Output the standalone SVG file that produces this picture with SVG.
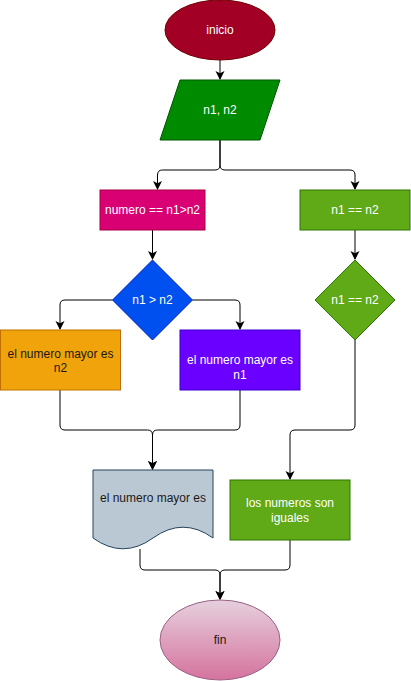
<svg xmlns="http://www.w3.org/2000/svg" width="411" height="681" viewBox="0 0 411 681">
<style>
text{font-family:"Liberation Sans",Arial,Helvetica,sans-serif;font-size:12px;text-anchor:middle}
.w{fill:#ffffff}
.d{fill:#1a1a1a}
.e{fill:none;stroke:#000000;stroke-width:1}
</style>
<defs>
<marker id="arr" markerUnits="userSpaceOnUse" markerWidth="10" markerHeight="10" refX="8" refY="4.5" orient="auto" viewBox="0 0 10 9">
<path d="M0,0 L9,4.5 L0,9 L2.2,4.5 Z" fill="#000000"/>
</marker>
<linearGradient id="finGrad" x1="0" y1="0" x2="0" y2="1">
<stop offset="0" stop-color="#e6d0de"/>
<stop offset="1" stop-color="#d5739d"/>
</linearGradient>
</defs>
<g id="connectors">
<path class="e" d="M220,60 V79" marker-end="url(#arr)"/>
<path class="e" d="M220,140 V165 Q220,170 215,170 H162.5 Q157.5,170 157.5,175 V189" marker-end="url(#arr)"/>
<path class="e" d="M220,140 V165 Q220,170 225,170 H350 Q355,170 355,175 V189" marker-end="url(#arr)"/>
<path class="e" d="M152.5,230 V259" marker-end="url(#arr)"/>
<path class="e" d="M355,230 V259" marker-end="url(#arr)"/>
<path class="e" d="M112.5,300 H65 Q60,300 60,305 V329" marker-end="url(#arr)"/>
<path class="e" d="M192.5,300 H235 Q240,300 240,305 V329" marker-end="url(#arr)"/>
<path class="e" d="M60,390 V425 Q60,430 65,430 H147.5 Q152.5,430 152.5,435 V469" marker-end="url(#arr)"/>
<path class="e" d="M240,390 V425 Q240,430 235,430 H157.5 Q152.5,430 152.5,435 V469" marker-end="url(#arr)"/>
<path class="e" d="M355,340 V425 Q355,430 350,430 H295 Q290,430 290,435 V479" marker-end="url(#arr)"/>
<path class="e" d="M140,549 V565 Q140,570 145,570 H215 Q220,570 220,575 V599" marker-end="url(#arr)"/>
<path class="e" d="M290,540 V565 Q290,570 285,570 H225 Q220,570 220,575 V599" marker-end="url(#arr)"/>
</g>
<g id="inicio">
<ellipse cx="220" cy="30" rx="55" ry="30" fill="#a20025" stroke="#6f0000"/>
<text class="w" x="220" y="34">inicio</text>
</g>
<g id="entrada">
<polygon points="180,80 280,80 260,140 160,140" fill="#008a00" stroke="#005700"/>
<text class="w" x="220" y="114">n1, n2</text>
</g>
<g id="numero">
<rect x="100" y="190" width="105" height="40" fill="#d80073" stroke="#a50040"/>
<text class="w" x="152.5" y="214">numero == n1&gt;n2</text>
</g>
<g id="igual">
<rect x="300" y="190" width="110" height="40" fill="#60a917" stroke="#2d7600"/>
<text class="w" x="355" y="214">n1 == n2</text>
</g>
<g id="decision1">
<polygon points="152.5,260 192.5,300 152.5,340 112.5,300" fill="#0050ef" stroke="#001dbc"/>
<text class="w" x="152.5" y="304">n1 &gt; n2</text>
</g>
<g id="decision2">
<polygon points="355,260 395,300 355,340 315,300" fill="#60a917" stroke="#2d7600"/>
<text class="w" x="355" y="304">n1 == n2</text>
</g>
<g id="mayor2">
<rect x="0.5" y="330" width="120" height="60" fill="#f0a30a" stroke="#bd7000"/>
<text class="d" x="60.5" y="357.5">el numero mayor es</text>
<text class="d" x="60.5" y="371.5">n2</text>
</g>
<g id="mayor1">
<rect x="180" y="330" width="120" height="60" fill="#6a00ff" stroke="#3700cc"/>
<text class="w" x="240" y="364">el numero mayor es</text>
<text class="w" x="240" y="379">n1</text>
</g>
<g id="documento">
<path d="M93,470 H213 V538 Q183,516.4 153,538 Q123,559.6 93,538 Z" fill="#bac8d3" stroke="#23445d"/>
<text class="d" x="153" y="502">el numero mayor es</text>
</g>
<g id="iguales">
<rect x="230" y="480" width="120" height="60" fill="#60a917" stroke="#2d7600"/>
<text class="w" x="290" y="507">los numeros son</text>
<text class="w" x="290" y="522">iguales</text>
</g>
<g id="fin">
<ellipse cx="220" cy="640" rx="60" ry="40" fill="url(#finGrad)" stroke="#996185"/>
<text class="d" x="220" y="644">fin</text>
</g>
</svg>
